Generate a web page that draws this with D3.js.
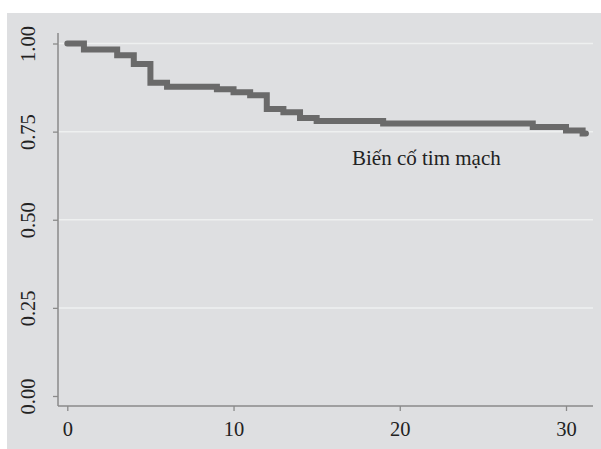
<!DOCTYPE html>
<html><head><meta charset="utf-8">
<script src="https://cdn.jsdelivr.net/npm/d3@7"></script>
<style>html,body{margin:0;padding:0;background:#fff;}svg{display:block;}</style>
</head><body>
<svg id="c" width="601" height="449"></svg>
<script>
const times = [0, 1, 3, 4, 5, 6, 9, 10, 11, 12, 13, 14, 15, 19, 28, 30, 31];
const survival = [1.00, 0.983, 0.967, 0.942, 0.889, 0.877, 0.870, 0.862, 0.853, 0.814, 0.805, 0.789, 0.780, 0.773, 0.763, 0.753, 0.745];
const endTime = 31.2;
const xTicks = [0, 10, 20, 30];
const yTicks = [0, 0.25, 0.5, 0.75, 1.0];
const yTickLabels = ["0.00", "0.25", "0.50", "0.75", "1.00"];
const gridValues = [0.25, 0.5, 0.75, 1.0];
const seriesLabel = "Biến cố tim mạch";

(function () {
const svg = d3.select("#c");
const font = "'Liberation Serif', 'DejaVu Serif', serif";

svg.append("rect").attr("x", 7).attr("y", 13).attr("width", 594).attr("height", 436).attr("fill", "#dedfe1");

const x = d3.scaleLinear().domain([0, 30]).range([67.3, 566]);
const y = d3.scaleLinear().domain([0, 1]).range([396, 43.5]);
const pLeft = 58, pRight = 593, pTop = 33, pBottom = 406;

// gridlines
svg.append("g").selectAll("line").data(gridValues).join("line")
  .attr("x1", pLeft).attr("x2", pRight)
  .attr("y1", d => y(d)).attr("y2", d => y(d))
  .attr("stroke", "#eef0f0").attr("stroke-width", 1.5);

// axes
const axisColor = "#8a8a8a";
const yAxis = d3.axisLeft(y).tickValues(yTicks).tickSize(5).tickFormat((d, i) => yTickLabels[i]);
const gy = svg.append("g").attr("transform", `translate(${pLeft},0)`).call(yAxis);
gy.select(".domain").remove();
gy.selectAll(".tick line").attr("stroke", axisColor).attr("stroke-width", 1.3);
gy.selectAll(".tick text").remove();
gy.selectAll(".tick").append("text")
  .attr("transform", "translate(-23,0) rotate(-90)")
  .attr("text-anchor", "middle")
  .attr("fill", "#222").attr("font-family", font).attr("font-size", 20.5)
  .text((d, i) => yTickLabels[i]);

const xAxis = d3.axisBottom(x).tickValues(xTicks).tickSize(5).tickFormat(d3.format("d"));
const gx = svg.append("g").attr("transform", `translate(0,${pBottom})`).call(xAxis);
gx.select(".domain").remove();
gx.selectAll(".tick line").attr("stroke", axisColor).attr("stroke-width", 1.3);
gx.selectAll(".tick text").attr("y", 30).attr("dy", 0)
  .attr("fill", "#222").attr("font-family", font).attr("font-size", 20.5);

svg.append("line").attr("x1", pLeft).attr("x2", pLeft).attr("y1", pTop).attr("y2", pBottom)
  .attr("stroke", axisColor).attr("stroke-width", 1.5);
svg.append("line").attr("x1", pLeft).attr("x2", pRight).attr("y1", pBottom).attr("y2", pBottom)
  .attr("stroke", axisColor).attr("stroke-width", 1.5);

// step curve
const pts = times.map((t, i) => [t, survival[i]]);
pts.push([endTime, survival[survival.length - 1]]);
const line = d3.line().x(d => x(d[0])).y(d => y(d[1])).curve(d3.curveStepAfter);
svg.append("path").attr("d", line(pts)).attr("fill", "none")
  .attr("stroke", "#6a6a6a").attr("stroke-width", 6)
  .attr("stroke-linejoin", "miter").attr("stroke-linecap", "round");

svg.append("text").attr("x", x(21.6)).attr("y", y(0.654))
  .attr("text-anchor", "middle").attr("fill", "#222")
  .attr("font-family", font).attr("font-size", 21).text(seriesLabel);
})();
</script>
</body></html>
